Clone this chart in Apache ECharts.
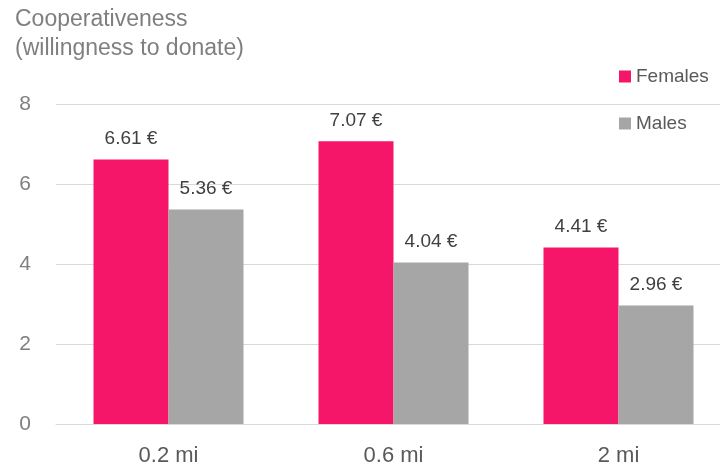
<!DOCTYPE html>
<html><head><meta charset="utf-8">
<script src="https://cdn.jsdelivr.net/npm/echarts@6/dist/echarts.min.js"></script>
<style>html,body{margin:0;padding:0;background:#fff;overflow:hidden;width:720px;height:471px}#c{width:731px;height:471px}</style>
</head><body><div id="c"></div>
<script>
const categories = ['0.2 mi', '0.6 mi', '2 mi'];
const females = [6.61, 7.07, 4.41];
const males = [5.36, 4.04, 2.96];
const seriesNames = ['Females', 'Males'];
const titleLines = ['Cooperativeness', '(willingness to donate)'];

const FONT = 'Liberation Sans';
const chart = echarts.init(document.getElementById('c'), null, {renderer: 'canvas'});
const labelCfg = {
  show: true, position: 'top', distance: 11,
  color: '#404040', fontFamily: FONT, fontSize: 19,
  formatter: p => p.value.toFixed(2) + ' €'
};
chart.setOption({
  animation: false,
  backgroundColor: '#ffffff',
  title: {
    text: titleLines.join('\n'), left: 15, top: 5, padding: 0,
    textStyle: {color: '#7f7f7f', fontFamily: FONT, fontSize: 23, fontWeight: 'normal', lineHeight: 29}
  },
  legend: {
    orient: 'vertical', left: 619, top: 67, padding: 0,
    itemWidth: 12, itemHeight: 12, itemGap: 28, icon: 'rect',
    textStyle: {color: '#595959', fontFamily: FONT, fontSize: 19},
    data: seriesNames
  },
  grid: {left: 56, right: 0, top: 104, height: 320, containLabel: false},
  xAxis: {
    type: 'category', data: categories,
    axisLine: {lineStyle: {color: '#d9d9d9', width: 1}},
    axisTick: {show: false},
    axisLabel: {color: '#595959', fontFamily: FONT, fontSize: 22, margin: 21}
  },
  yAxis: {
    type: 'value', min: 0, max: 8, interval: 2,
    axisLine: {show: false}, axisTick: {show: false},
    splitLine: {lineStyle: {color: '#d9d9d9', width: 1}},
    axisLabel: {color: '#7f7f7f', fontFamily: FONT, fontSize: 21, margin: 25}
  },
  series: [
    {name: seriesNames[0], type: 'bar', data: females, barWidth: 75, barGap: '0%',
     itemStyle: {color: '#f5166a'}, label: labelCfg},
    {name: seriesNames[1], type: 'bar', data: males, barWidth: 75, barGap: '0%',
     itemStyle: {color: '#a6a6a6'}, label: labelCfg}
  ]
});
</script></body></html>
